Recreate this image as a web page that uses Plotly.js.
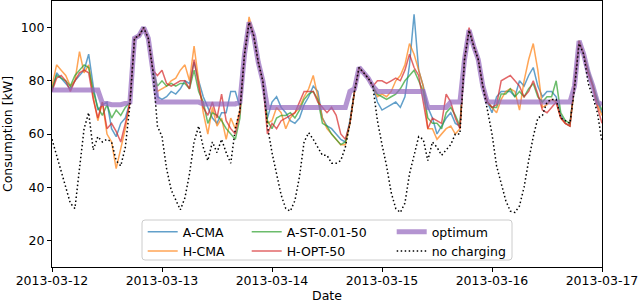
<!DOCTYPE html>
<html>
<head>
<meta charset="utf-8">
<script src="https://cdn.plot.ly/plotly-3.0.1.min.js"></script>
<style>html,body{margin:0;padding:0;background:#fff}#chart{width:640px;height:305px}</style>
</head>
<body>
<div id="chart"></div>
<script>
// hourly samples from 2013-03-12 00:00 to 2013-03-17 00:00
const startDate = '2013-03-12T00:00:00Z';
const stepHours = 1;

const aCma = [
  76,83,81,79,77,80,82,84,90,78,69,71,72,62,59,64,66,72,96,97,100,96,84,74,
  73,74,76,75,77,80,79,87,80,74,70,66,64,68,68,76,76,70,90,102,97,87,80,66,
  72,74,70,68,65,64,66,71,74,78,76,66,63,62,60,58,57,65,76,85,83,81,78,72,
  69,70,71,72,70,74,86,105,84,78,70,66,60,63,66,68,64,63,88,99,93,88,78,72,
  68,74,76,76,76,74,80,78,82,85,78,74,76,76,74,67,64,63,78,95,90,83,78,72,68
];
const hCma = [
  78,86,84,82,78,80,91,83,86,74,65,72,60,57,47,54,62,72,96,97,100,96,84,76,
  77,78,80,81,84,86,80,93,80,68,60,70,63,66,58,66,62,69,90,104,97,87,80,64,
  65,70,68,62,66,68,70,74,77,82,74,66,62,60,58,56,56,64,76,85,83,81,78,74,
  75,74,76,80,82,86,94,90,84,78,62,62,58,60,62,63,60,62,88,99,93,88,78,72,
  70,68,73,76,77,76,69,80,88,94,84,70,71,73,72,66,64,63,78,95,90,83,78,71,67
];
const aSt = [
  77,82,81,80,78,82,84,86,85,76,70,67,71,66,69,67,70,72,96,97,100,96,84,78,
  80,78,79,78,79,79,77,84,76,72,64,68,67,65,62,60,58,66,90,102,97,87,80,65,
  62,66,67,67,68,66,69,73,75,76,73,64,63,60,58,56,57,64,76,85,83,81,78,75,
  74,73,74,75,77,80,82,84,80,76,66,64,64,62,68,70,67,63,88,99,93,88,78,72,
  70,70,75,75,77,74,76,74,77,79,74,72,74,74,80,68,65,64,78,95,90,84,79,73,69
];
const hOpt = [
  76,81,82,80,76,80,83,84,83,73,66,72,62,64,61,57,64,72,96,97,100,96,84,82,
  84,79,78,79,80,80,77,88,78,70,67,72,66,75,65,62,60,68,90,102,97,87,80,60,
  64,62,65,66,67,68,72,76,76,76,72,70,68,70,67,60,58,64,76,85,83,81,78,80,
  80,79,80,81,80,84,90,85,82,72,62,66,65,64,75,72,66,62,88,100,93,88,78,72,
  70,71,80,81,82,80,78,74,76,80,75,69,68,70,72,66,64,63,78,95,90,83,78,70,64
];
const optimum = [
  76.5,76.5,76.5,76.5,76.5,76.5,76.5,76.5,76.5,76.5,76.5,71.5,71.5,71,71,71,71.5,72,96,97,100,96,84,72,
  72,72,72,72,72,72,72,72,72,71.3,71.3,71.3,71.3,71.3,71.3,71.3,71.3,72,90,102,97,87,80,70,
  70,70,70,70,70,70,70,70,70,70,70,70,70,70,70,70,70,76,77,85,83,81,78,76,
  76,76,76,76,76,76,76,76,76,76,70,70,70,70,70,72,72,72,88,99,93,88,78,72,
  72,72,72,72,72,72,72,72,72,72,72,72,72,72,72,72,72,72,78,95,90,83,78,72,71
];
const noCharging = [
  58,52,46,40,34,32,47,62,68,54,59,57,58,57,50,48,55,71,96,97,100,96,84,63,
  59,47,39,35,31.5,36,45,57,63,55,50,57,53,58,53,49,62,69,90,102,97,87,80,63,
  53,45,37,32,31,35,44,57,60.5,58,55,52,52,49,49,50,55,64,76,85,83,81,78,65,
  56,48,38,32,30.5,34,45,52,59,58,50,57,55,52,54,56,60,60,88,99,93,88,78,69,
  60,48,42,35,31,30.5,33,40,50,59,66,67,72,73,73,66,65,64,77,94,90,79,74,68,57
];

const seriesNames = ['A-CMA','H-CMA','A-ST-0.01-50','H-OPT-50','optimum','no charging'];
const xTickLabels = ['2013-03-12','2013-03-13','2013-03-14','2013-03-15','2013-03-16','2013-03-17'];

function pad(n){return (n<10?'0':'')+n;}
const t0 = Date.parse(startDate);
const times = aCma.map((_, i) => {
  const d = new Date(t0 + i*stepHours*3600000);
  return d.getUTCFullYear()+'-'+pad(d.getUTCMonth()+1)+'-'+pad(d.getUTCDate())+' '+pad(d.getUTCHours())+':00';
});

const FONT = 'DejaVu Sans, sans-serif';
function lineTrace(y, name, color, width, legend, rank, dash){
  return {x: times, y: y, name: name, type: 'scatter', mode: 'lines',
    line: {color: color, width: width, dash: dash || 'solid'},
    legend: legend, legendrank: rank, hoverinfo: 'skip'};
}
const data = [
  lineTrace(aCma, seriesNames[0], 'rgba(31,119,180,0.7)', 1.5, 'legend', 1),
  lineTrace(hCma, seriesNames[1], 'rgba(255,127,14,0.7)', 1.5, 'legend', 2),
  lineTrace(aSt, seriesNames[2], 'rgba(44,160,44,0.7)', 1.5, 'legend2', 1),
  lineTrace(hOpt, seriesNames[3], 'rgba(214,39,40,0.7)', 1.5, 'legend2', 2),
  lineTrace(optimum, seriesNames[4], 'rgba(148,103,189,0.7)', 5, 'legend3', 1),
  lineTrace(noCharging, seriesNames[5], '#000000', 1.5, 'legend3', 2, '1.5px,2.5px')
];

const W = 550, H = 266, L = 52, T = 1;
function px2x(p){return (p - L)/W;}
function py2y(p){return (T + H - p)/H;}
// rounded legend frame
const fx0 = 142, fx1 = 512, fy0 = 220, fy1 = 260, r = 3;
const rx = r/W, ry = r/H;
const X0 = px2x(fx0), X1 = px2x(fx1), Yt = py2y(fy0), Yb = py2y(fy1);
const framePath = `M${X0+rx},${Yt} L${X1-rx},${Yt} Q${X1},${Yt} ${X1},${Yt-ry} L${X1},${Yb+ry} Q${X1},${Yb} ${X1-rx},${Yb} L${X0+rx},${Yb} Q${X0},${Yb} ${X0},${Yb+ry} L${X0},${Yt-ry} Q${X0},${Yt} ${X0+rx},${Yt} Z`;

const legendBase = {yanchor: 'top', xanchor: 'left', bgcolor: 'rgba(0,0,0,0)', borderwidth: 0,
  font: {family: FONT, size: 12.5, color: '#000'}, tracegroupgap: 0, itemclick: false, itemdoubleclick: false};
const legY = py2y(217);

const layout = {
  width: 640, height: 305,
  margin: {l: L, r: 38, t: T, b: 38, pad: 0},
  paper_bgcolor: '#fff', plot_bgcolor: '#fff',
  font: {family: FONT, size: 12.5, color: '#000'},
  showlegend: true,
  xaxis: {
    type: 'date', range: ['2013-03-12', '2013-03-17'],
    tickvals: xTickLabels, ticktext: xTickLabels,
    ticks: 'outside', ticklen: 4, tickwidth: 1, tickcolor: '#000',
    ticklabelstandoff: -2,
    showline: true, mirror: true, linecolor: '#000', linewidth: 1,
    showgrid: false, zeroline: false,
    tickfont: {family: FONT, size: 12.5, color: '#000'},
    title: {text: 'Date', font: {family: FONT, size: 12.5, color: '#000'}, standoff: 4}
  },
  yaxis: {
    range: [10, 110], tickvals: [20, 40, 60, 80, 100],
    ticks: 'outside', ticklen: 4, tickwidth: 1, tickcolor: '#000',
    showline: true, mirror: true, linecolor: '#000', linewidth: 1,
    showgrid: false, zeroline: false,
    tickfont: {family: FONT, size: 12.5, color: '#000'},
    title: {text: 'Consumption [kW]', font: {family: FONT, size: 12.5, color: '#000'}, standoff: 6}
  },
  legend: Object.assign({}, legendBase, {x: px2x(142.7), y: legY}),
  legend2: Object.assign({}, legendBase, {x: px2x(246.7), y: legY}),
  legend3: Object.assign({}, legendBase, {x: px2x(391.7), y: legY}),
  shapes: [{type: 'path', xref: 'paper', yref: 'paper', path: framePath,
    line: {color: '#cccccc', width: 1}, fillcolor: 'rgba(255,255,255,0.8)', layer: 'above'}]
};

Plotly.newPlot('chart', data, layout, {staticPlot: true, displayModeBar: false});
</script>
</body>
</html>
